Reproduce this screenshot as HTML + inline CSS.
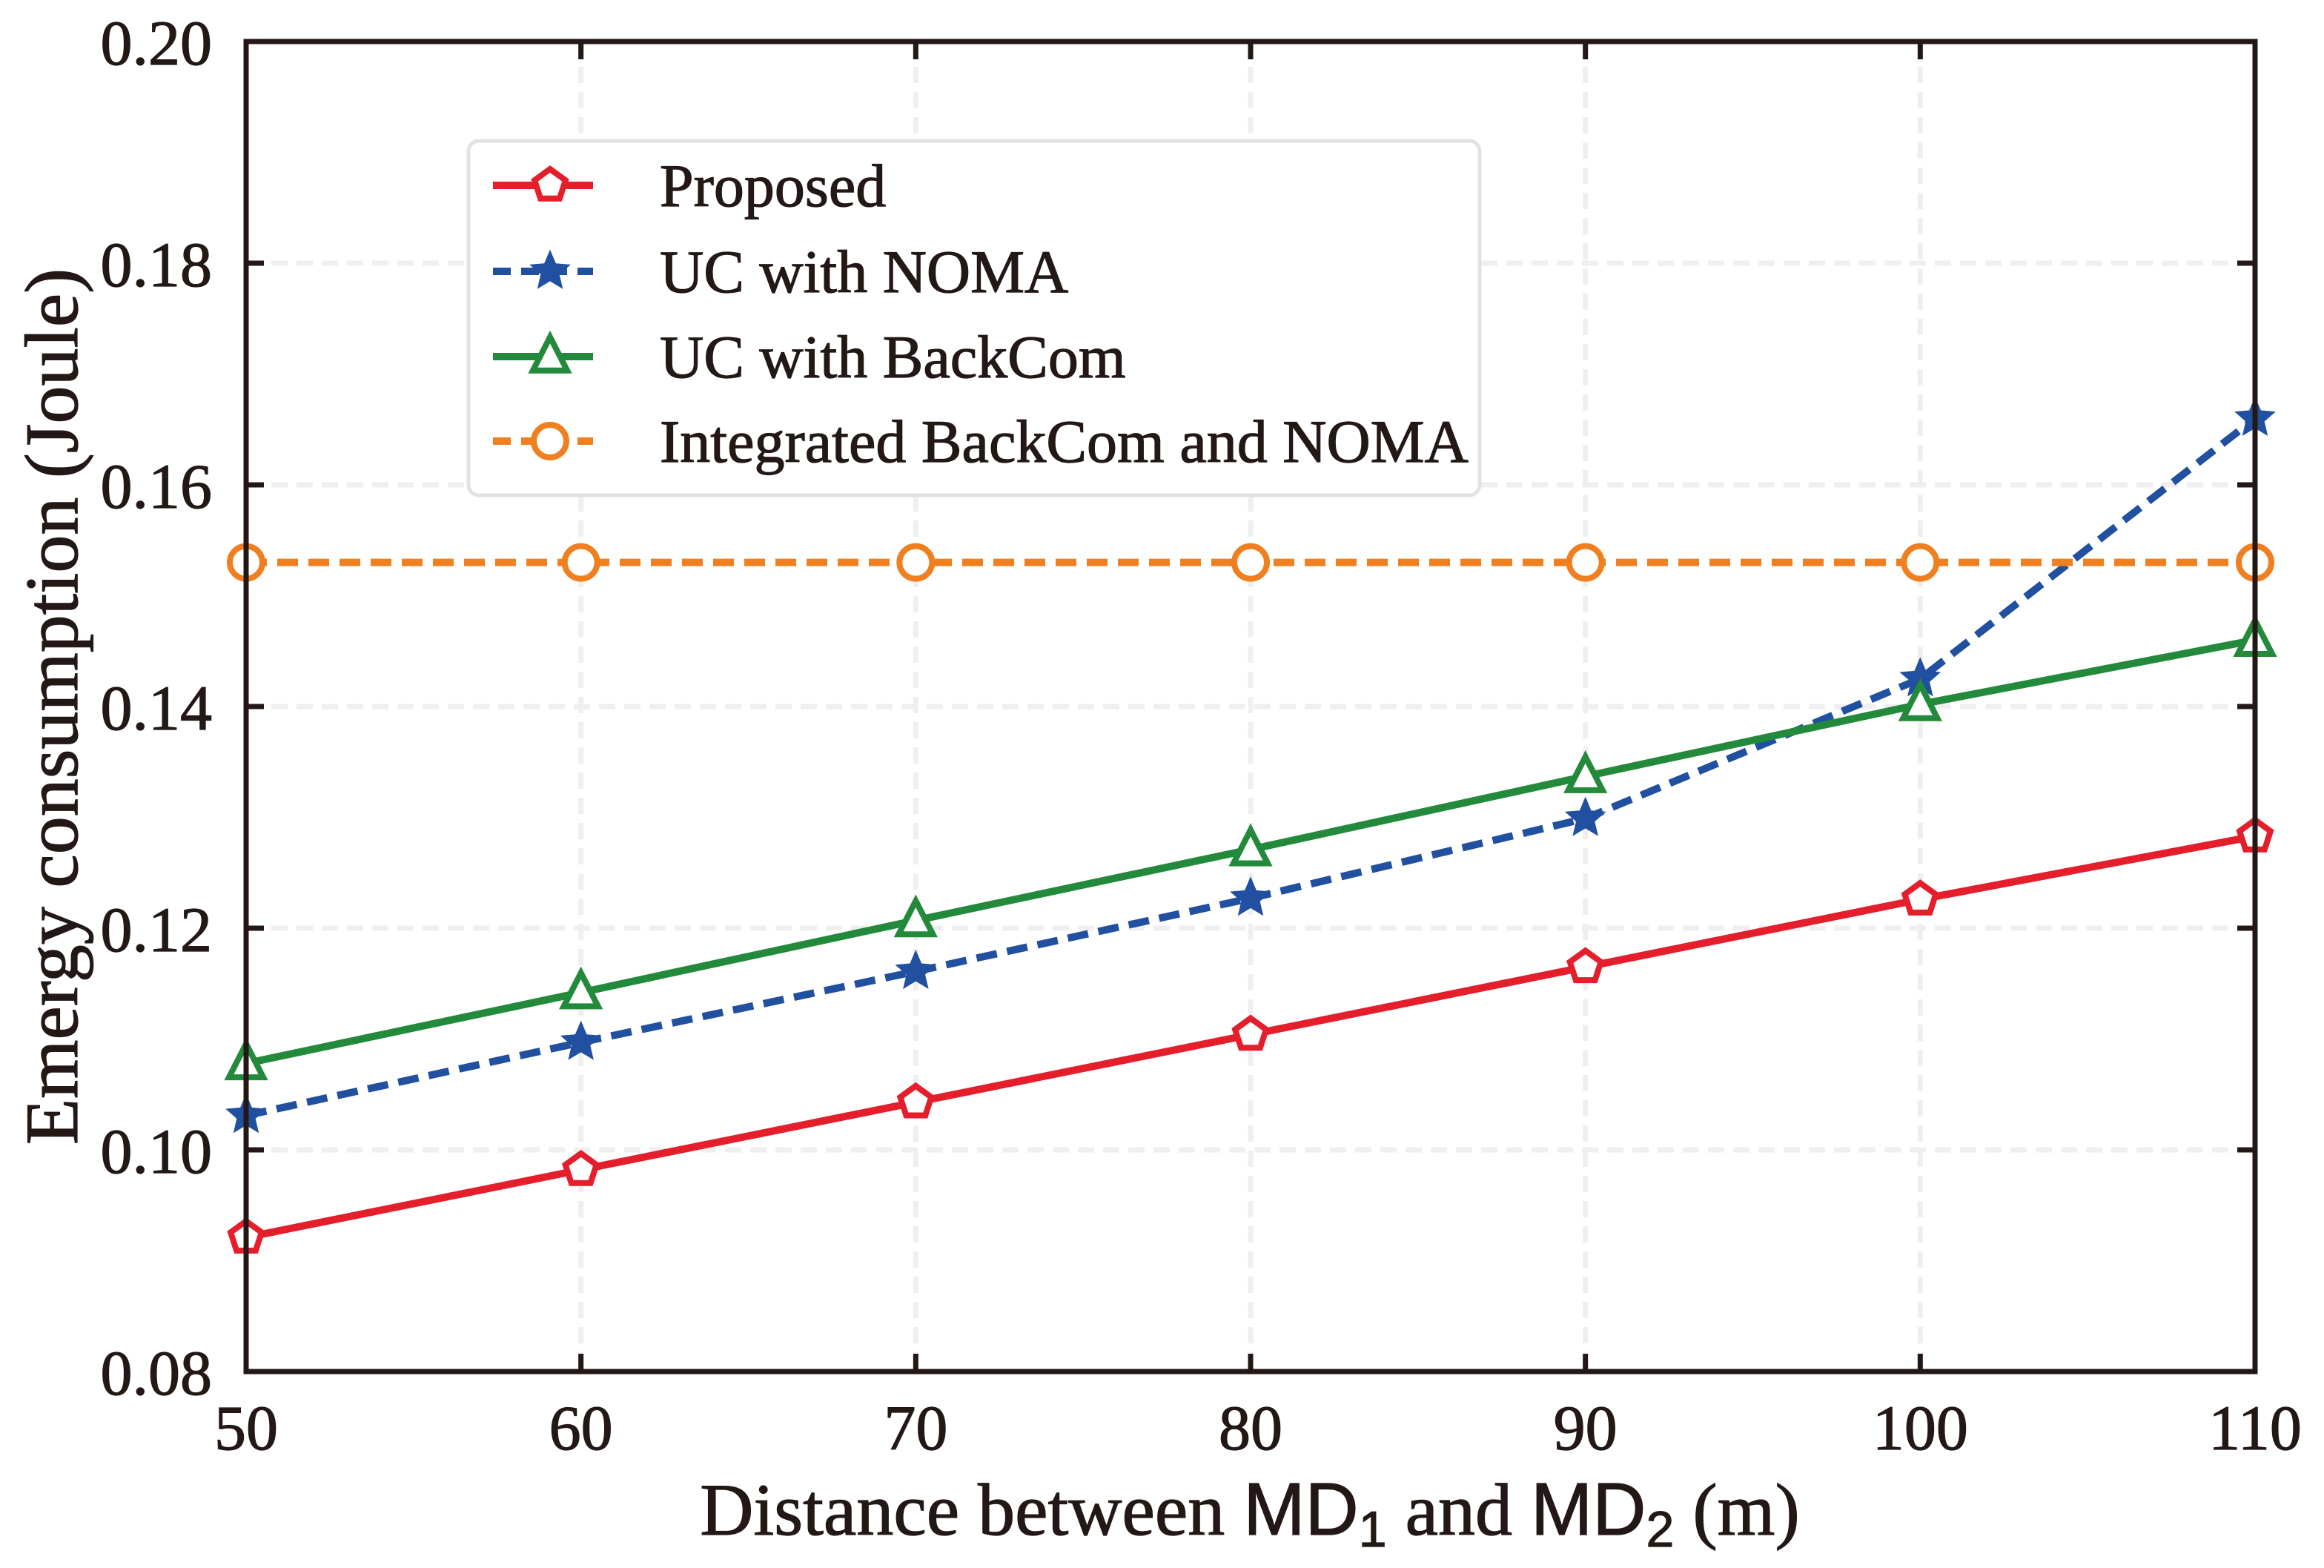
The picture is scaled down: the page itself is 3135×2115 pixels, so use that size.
<!DOCTYPE html>
<html><head><meta charset="utf-8"><style>
html,body{margin:0;padding:0;background:#fff;}
svg{display:block;}
text{font-family:"Liberation Serif",serif;fill:#231815;stroke:#231815;stroke-width:1.2;}
</style></head><body>
<svg id="chart" width="3135" height="2115" viewBox="0 0 3135 2115" xmlns="http://www.w3.org/2000/svg">
<g id="grid"></g>
<g id="series"></g>
<rect x="332" y="56" width="2710" height="1794" fill="none" stroke="#231815" stroke-width="7"/>
<g id="ticks"></g>
<g id="legend"></g>
<text x="1686" y="2070" font-size="100" text-anchor="middle">Distance between <tspan font-family="Liberation Sans, sans-serif">MD</tspan><tspan font-family="Liberation Sans, sans-serif" font-size="68" dy="16">1</tspan><tspan dy="-16"> and </tspan><tspan font-family="Liberation Sans, sans-serif">MD</tspan><tspan font-family="Liberation Sans, sans-serif" font-size="68" dy="16">2</tspan><tspan dy="-16"> (m)</tspan></text>
<text x="0" y="0" font-size="102" text-anchor="middle" transform="translate(104,953) rotate(-90)">Emergy consumption (Joule)</text>
</svg>
<script>
const categories=[50,60,70,80,90,100,110];
const proposed=[0.0921,0.0982,0.1043,0.1104,0.1165,0.1226,0.1283];
const ucNoma=[0.1031,0.1097,0.1161,0.1227,0.1299,0.1425,0.1660];
const ucBackcom=[0.1078,0.1142,0.1207,0.1271,0.1337,0.1402,0.1460];
const integrated=[0.1530,0.1530,0.1530,0.1530,0.1530,0.1530,0.1530];
const xTicks=[50,60,70,80,90,100,110];
const yTicks=[0.08,0.10,0.12,0.14,0.16,0.18,0.20];
const yTickLabels=["0.08","0.10","0.12","0.14","0.16","0.18","0.20"];
const seriesNames=["Proposed","UC with NOMA","UC with BackCom","Integrated BackCom and NOMA"];

const L=332,R=3042,T=56,B=1850;
const X=v=>L+(v-50)/(110-50)*(R-L);
const Y=v=>B-(v-0.08)/(0.20-0.08)*(B-T);
const NS="http://www.w3.org/2000/svg";
function mk(tag,attrs,parent){const e=document.createElementNS(NS,tag);for(const k in attrs)e.setAttribute(k,attrs[k]);parent.appendChild(e);return e;}
const grid=document.getElementById('grid'),ticks=document.getElementById('ticks'),ser=document.getElementById('series'),leg=document.getElementById('legend');

xTicks.forEach((v,i)=>{
  const x=X(v);
  if(i>0&&i<xTicks.length-1){const g=mk('line',{x1:x,x2:x,y1:T,y2:B,stroke:'#efefef','stroke-width':7,'stroke-dasharray':'22 12'},grid);
  
  }
  const t1=mk('line',{x1:x,x2:x,y1:B,y2:B-24,stroke:'#231815','stroke-width':7},ticks);
  
  
  const t2=mk('line',{x1:x,x2:x,y1:T,y2:T+24,stroke:'#231815','stroke-width':7},ticks);
  
  
  const lb=mk('text',{x:x,y:1955,'font-size':86,'text-anchor':'middle'},ticks);lb.textContent=v;
  
  
});
yTicks.forEach((v,i)=>{
  const y=Y(v);
  if(i>0&&i<yTicks.length-1){const g=mk('line',{x1:L,x2:R,y1:y,y2:y,stroke:'#efefef','stroke-width':7,'stroke-dasharray':'22 12'},grid);
  
  }
  const t1=mk('line',{x1:L,x2:L+24,y1:y,y2:y,stroke:'#231815','stroke-width':7},ticks);
  
  
  const t2=mk('line',{x1:R,x2:R-24,y1:y,y2:y,stroke:'#231815','stroke-width':7},ticks);
  
  
  const lb=mk('text',{x:286,y:y+31,'font-size':86,'text-anchor':'end'},ticks);lb.textContent=yTickLabels[i];
  
  
});

function marker(type,cx,cy,color,parent){
  let e;const r=22;
  if(type==='pent'){let p=[];for(let k=0;k<5;k++){const a=-Math.PI/2+k*2*Math.PI/5;p.push((cx+r*Math.cos(a)).toFixed(1)+','+(cy+r*Math.sin(a)).toFixed(1));}
    e=mk('polygon',{points:p.join(' '),fill:'#fff',stroke:color,'stroke-width':8},parent);}
  else if(type==='star'){let p=[];for(let k=0;k<10;k++){const rr=k%2?r*0.5:r*1.1;const a=-Math.PI/2+k*Math.PI/5;p.push((cx+rr*Math.cos(a)).toFixed(1)+','+(cy+rr*Math.sin(a)).toFixed(1));}
    e=mk('polygon',{points:p.join(' '),fill:color,stroke:color,'stroke-width':4},parent);}
  else if(type==='tri'){const p=[[cx,cy-r*1.2],[cx+r*1.05,cy+r*0.85],[cx-r*1.05,cy+r*0.85]].map(q=>q.join(',')).join(' ');
    e=mk('polygon',{points:p,fill:'#fff',stroke:color,'stroke-width':8},parent);}
  else {e=mk('circle',{cx:cx,cy:cy,r:r,fill:'#fff',stroke:color,'stroke-width':8},parent);}
  return e;
}
const defs=[
 {vals:proposed,color:'#e41e2b',dash:'',m:'pent',name:'proposed'},
 {vals:ucNoma,color:'#2150a0',dash:'28 14',m:'star',name:'uc-noma'},
 {vals:ucBackcom,color:'#248a3b',dash:'',m:'tri',name:'uc-backcom'},
 {vals:integrated,color:'#ef7f1f',dash:'28 14',m:'circ',name:'integrated'}
];
defs.forEach(d=>{
  const g=mk('g',{},ser);
  
  
  const pts=categories.map((c,i)=>X(c)+','+Y(d.vals[i])).join(' ');
  const pl=mk('polyline',{points:pts,fill:'none',stroke:d.color,'stroke-width':10,'stroke-dasharray':d.dash},g);
  
  
  categories.forEach((c,i)=>{const m=marker(d.m,X(c),Y(d.vals[i]),d.color,g);
    
    });
});

const box=mk('rect',{x:632,y:190,width:1364,height:478,rx:14,fill:'#fff',stroke:'#e2e2e2','stroke-width':5},leg);


const ly=[250,366,481,595];
defs.forEach((d,i)=>{
  const g=mk('g',{},leg);
  
  
  mk('line',{x1:665,x2:800,y1:ly[i],y2:ly[i],stroke:d.color,'stroke-width':10,'stroke-dasharray':d.dash?'24 14':''},g);
  marker(d.m,742,ly[i],d.color,g);
  const t=mk('text',{x:890,y:ly[i]+28,'font-size':82},g);t.textContent=seriesNames[i];
});
</script>
</body></html>
